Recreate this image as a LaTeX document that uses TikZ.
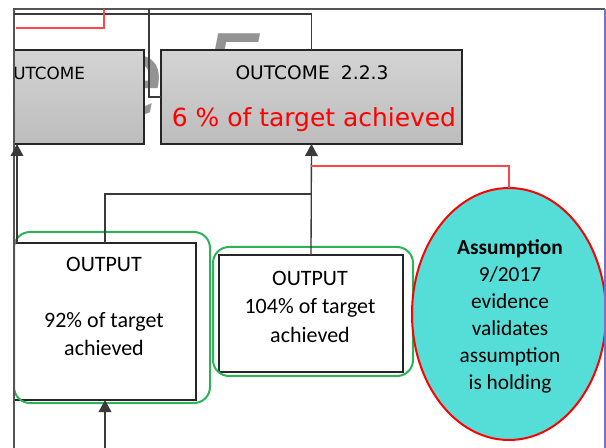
\documentclass[tikz,border=0pt]{standalone}
\usepackage{fontspec}
\setmainfont{Carlito}
\newfontfamily\dejavu{DejaVu Sans}
\usetikzlibrary{arrows.meta,shapes.geometric}

\definecolor{wire}{HTML}{3A3A3A}
\definecolor{frametop}{HTML}{555555}
\definecolor{frameblue}{HTML}{7474C8}
\definecolor{linkred}{HTML}{FF4545}
\definecolor{groupgreen}{HTML}{2DB357}
\definecolor{assumefill}{HTML}{55DDD8}
\definecolor{markgray}{HTML}{939393}

\tikzset{
  wire/.style={draw=wire,line width=1pt},
  uptip/.style={-{Triangle[length=9pt,width=9.5pt]}},
  outcomebox/.style={rectangle,draw=black!85,line width=1pt,top color=black!17,bottom color=black!26,inner sep=0pt,outer sep=0pt},
  outputbox/.style={rectangle,draw=black!85,line width=1pt,fill=white,inner sep=0pt,outer sep=0pt},
  groupbox/.style={rectangle,draw=groupgreen,line width=1.5pt,rounded corners=12pt,inner sep=0pt,outer sep=0pt},
  assumebox/.style={ellipse,draw=red,line width=1.5pt,fill=assumefill,inner sep=0pt,outer sep=0pt},
  bodytext/.style={inner sep=0pt,align=center,font=\fontsize{16.5}{20.5}\selectfont},
  headtext/.style={inner sep=0pt,font=\dejavu\fontsize{14}{16}\selectfont},
  bigmark/.style={inner sep=0pt,text=markgray,font=\dejavu\itshape\fontsize{80}{80}\selectfont},
}

\begin{document}
\begin{tikzpicture}[x=0.75pt,y=-0.75pt]
\useasboundingbox (0,0) rectangle (606,448);

% large grey figures behind the outcome boxes
\node[bigmark,anchor=base west] (markE) at (98,116) {e};
\node[bigmark,anchor=base west] (markF) at (198,112) {5};

% outcome boxes
\node[outcomebox,minimum width=97.5pt,minimum height=70.5pt] (ocL) at (79,97) {};
\node[outcomebox,minimum width=225.75pt,minimum height=70.5pt] (oc) at (311.5,97) {};
\node[headtext,anchor=base west,font=\dejavu\fontsize{12.6}{15}\selectfont] (ocLtxt) at (13,80) {UTCOME};
\node[headtext,anchor=base] (octitle) at (312,80) {OUTCOME\hspace{0.6em}2.2.3};
\node[headtext,anchor=base,text=red,font=\dejavu\fontsize{18.7}{22}\selectfont] (ocval) at (314,127) {6 \% of target achieved};

% outputs
\node[outputbox,minimum width=136.5pt,minimum height=117.75pt] (out1) at (105,321.5) {};
\node[groupbox,minimum width=147pt,minimum height=128.25pt] (grp1) at (112,317.5) {};
\node[bodytext] (out1txt) at (104,306.5) {OUTPUT\\[21.5pt]92\% of target\\achieved};

\node[outputbox,minimum width=138pt,minimum height=87.75pt] (out2) at (311,313.5) {};
\node[groupbox,minimum width=150pt,minimum height=96.75pt] (grp2) at (313,311.5) {};
\node[bodytext,font=\fontsize{16.5}{21.4}\selectfont] (out2txt) at (310,306.5) {OUTPUT\\104\% of target\\achieved};

% assumption
\node[assumebox,minimum width=145.5pt,minimum height=189pt] (asm) at (509,314) {};
\node[bodytext,font=\fontsize{16}{20.25}\selectfont] (asmtxt) at (510,316.5)
  {\textbf{Assumption}\\9/2017\\evidence\\validates\\assumption\\is holding};

% frame
\draw[frametop,line width=1pt] (14,448) -- (14,9) -- (605,9);
\draw[frameblue,line width=1pt] (605,9) -- (605,448);

% connectors
\coordinate (topL) at (14,14);
\coordinate (topM) at (149,9);
\coordinate (redA) at (16,28);
\coordinate (redB) at (104,9);
\coordinate (join) at (311,194);
\coordinate (redtap) at (311,166);
\coordinate (feed) at (105,448);
\coordinate (leftfoot) at (17,243);

\draw[wire] (topL) -| (oc.north);
\draw[wire] (topM) |- (oc.west);
\draw[linkred,line width=1pt] (redA) -| (redB);
\draw[wire,uptip] (out2.north) -- (oc.south);
\draw[wire] (out1.north) |- (join);
\draw[linkred,line width=1pt] (redtap) -| (asm.north);
\draw[wire,uptip] (feed) -- (out1.south);
\draw[wire,uptip] (leftfoot) -- (ocL.south -| leftfoot);
\end{tikzpicture}
\end{document}
